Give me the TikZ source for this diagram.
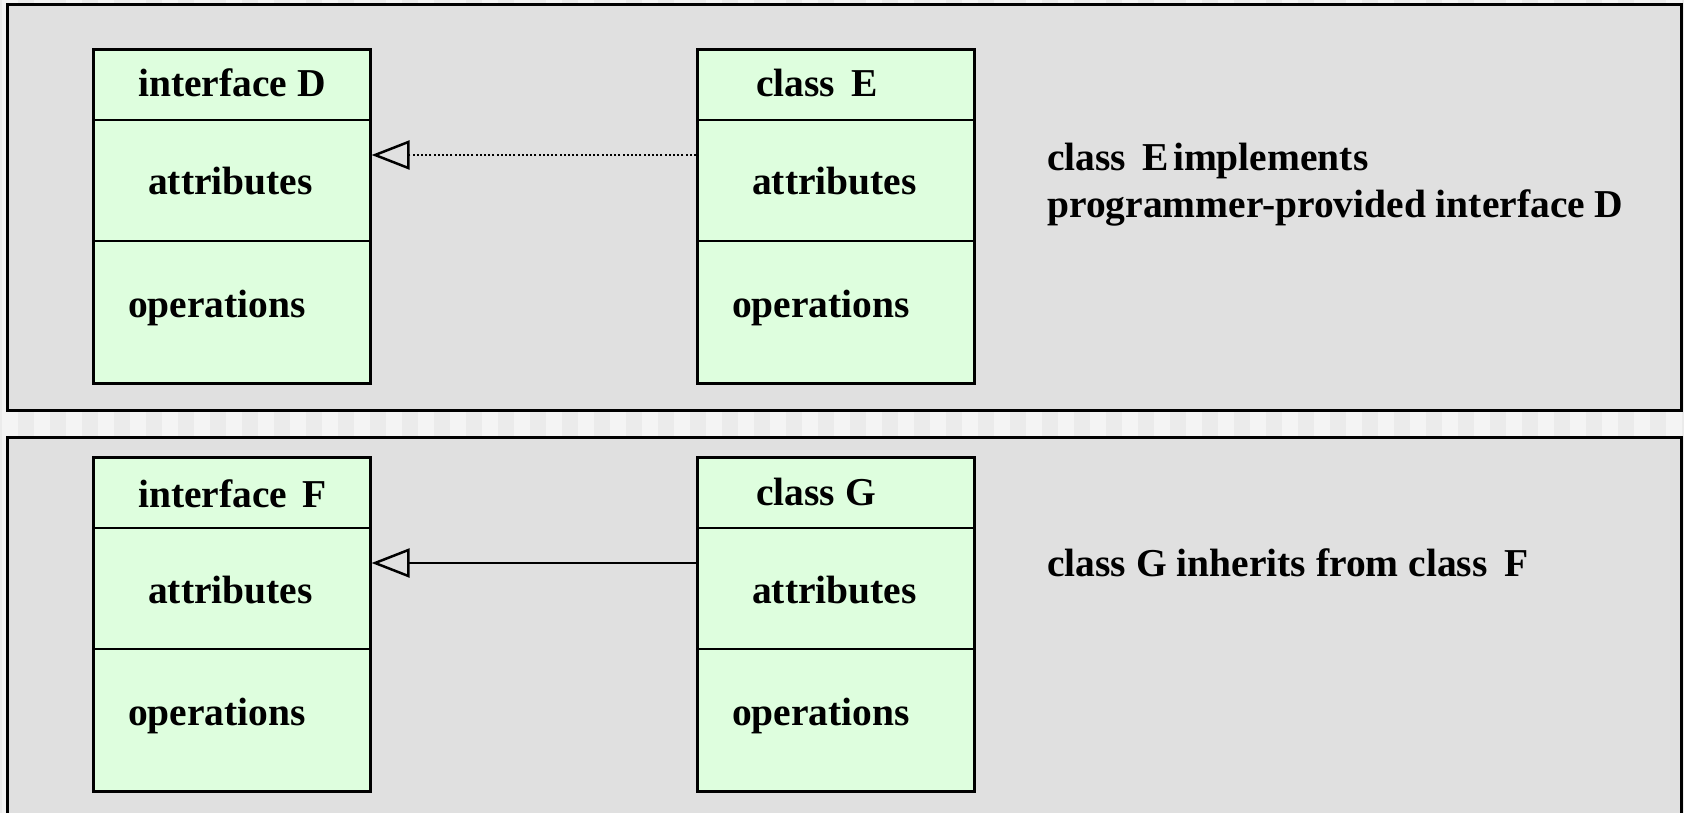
\documentclass[tikz,border=0pt]{standalone}
\usepackage{fontspec}
\setmainfont{Liberation Serif}
\usetikzlibrary{arrows.meta}
\definecolor{panelgray}{HTML}{E0E0E0}
\definecolor{boxgreen}{HTML}{DEFEDE}
\definecolor{stripeA}{HTML}{F4F4F4}
\definecolor{stripeB}{HTML}{EBEBEB}
\tikzset{
  umlbox/.style={draw=black, fill=boxgreen, line width=2.6pt, rectangle, inner sep=0pt,
    minimum width=277pt, minimum height=334pt, anchor=north west},
  divider/.style={line width=2.6pt},
  panel/.style={line width=3pt},
  lbl/.style={inner sep=0pt, anchor=base west, font=\fontsize{39.5pt}{47pt}\selectfont\bfseries},
  openhead/.style={-{Triangle[open, length=38pt, width=29pt, line width=2.5pt]}},
  realize/.style={line width=2pt, dash pattern=on 2pt off 2.2pt, openhead},
  inherit/.style={line width=2.5pt, openhead}
}
\begin{document}
\begin{tikzpicture}[x=1pt, y=-1pt]
\useasboundingbox (0,0) rectangle (1684,813);
% striped background
\fill[stripeB] (0,0) rectangle (1684,813);
\foreach \i in {0,...,52} {
  \fill[stripeA] ({\i*32+2},0) rectangle ({\i*32+18},813);
}
% panels
\fill[panelgray] (7,5) rectangle (1681,410);
\draw[panel] (7,5) rectangle (1681,410);
\fill[panelgray] (7,437) rectangle (1681,820);
\draw[panel] (7,820) -- (7,437) -- (1681,437) -- (1681,820);

% upper boxes
\node[umlbox] (D) at (92,48) {};
\node[umlbox] (E) at (696,48) {};
\draw[divider] (D.west |- 0,120) -- (D.east |- 0,120);
\draw[divider] (D.west |- 0,241) -- (D.east |- 0,241);
\draw[divider] (E.west |- 0,120) -- (E.east |- 0,120);
\draw[divider] (E.west |- 0,241) -- (E.east |- 0,241);
\node[lbl] (Dh) at (138,97) {interface D};
\node[lbl] (Da) at (148,195) {attributes};
\node[lbl] (Do) at (128,317) {operations};
\node[lbl] (Eh) at (756,97) {class\hspace{0.42em}E};
\node[lbl] (Ea) at (752,195) {attributes};
\node[lbl] (Eo) at (732,317) {operations};
\draw[realize] (E.west |- 0,155) -- (D.east |- 0,155);
\node[lbl] (t1) at (1047,171) {class\hspace{0.42em}E\hspace{0.1em}implements};
\node[lbl] (t2) at (1047,218) {programmer-provided interface D};

% lower boxes
\node[umlbox] (F) at (92,456) {};
\node[umlbox] (G) at (696,456) {};
\draw[divider] (F.west |- 0,528) -- (F.east |- 0,528);
\draw[divider] (F.west |- 0,649) -- (F.east |- 0,649);
\draw[divider] (G.west |- 0,528) -- (G.east |- 0,528);
\draw[divider] (G.west |- 0,649) -- (G.east |- 0,649);
\node[lbl] (Fh) at (138,507) {interface\hspace{0.38em}F};
\node[lbl] (Fa) at (148,603) {attributes};
\node[lbl] (Fo) at (128,725) {operations};
\node[lbl] (Gh) at (756,505) {class G};
\node[lbl] (Ga) at (752,603) {attributes};
\node[lbl] (Go) at (732,725) {operations};
\draw[inherit] (G.west |- 0,563) -- (F.east |- 0,563);
\node[lbl] (t3) at (1047,576) {class G inherits from class\hspace{0.42em}F};
\end{tikzpicture}
\end{document}
